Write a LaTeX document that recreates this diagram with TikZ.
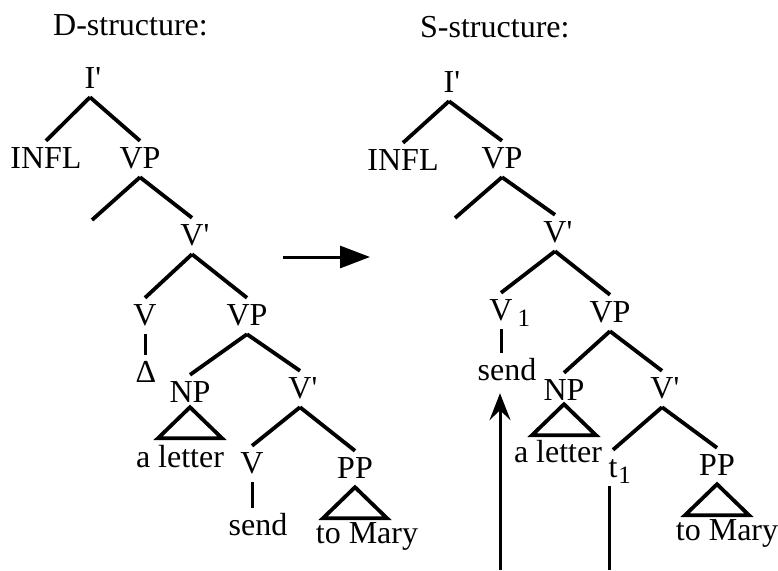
\documentclass[tikz,border=0pt]{standalone}
\usepackage{fontspec}
\setmainfont{Liberation Serif}
\usetikzlibrary{arrows.meta}

\newcommand{\prm}{\rlap{\textquotesingle}}
\newcommand{\idx}[2][5pt]{\rlap{\kern#1\raisebox{-6pt}{\fontsize{25}{25}\selectfont #2}}}

\begin{document}
\begin{tikzpicture}[x=1pt,y=-1pt,
    every node/.style={font=\fontsize{32}{38}\selectfont},
    head/.style={inner sep=0pt,anchor=base west},
    cat/.style={inner xsep=0pt,inner ysep=6pt,text height=21pt,text depth=3pt,anchor=base},
    branch/.style={line width=3.8pt},
    stem/.style={line width=3pt},
    move/.style={line width=3pt,-{Triangle[length=30pt,width=22pt]}},
    trace/.style={line width=3pt,-{Stealth[length=27pt,width=21pt,inset=10pt]},shorten >=4pt}]
    \useasboundingbox (0,0) rectangle (778,570);

    % D-structure
    \node[head] (d_head) at (53,35) {D-structure:};
    \node[cat] (d_ip) at (90,88) {I\prm};
    \node[cat] (d_infl) at (46,168) {INFL};
    \node[cat] (d_vp) at (140,168) {VP};
    \coordinate (d_spec) at (92,220);
    \node[cat] (d_vbar) at (192,245) {V\prm};
    \node[cat] (d_v) at (145,325) {V};
    \node[cat] (d_vp2) at (247,325) {VP};
    \node[cat] (d_delta) at (146,382) {Δ};
    \node[cat] (d_np) at (190,402) {NP};
    \node[cat] (d_vbar2) at (300,398) {V\prm};
    \node[cat] (d_letter) at (180,467) {a letter};
    \node[cat] (d_v2) at (252,473) {V};
    \node[cat] (d_pp) at (355,478) {PP};
    \node[cat] (d_send) at (258,535) {send};
    \node[cat] (d_mary) at (367,543) {to Mary};
    \path[branch]
        (d_ip.south) edge (d_infl.north)
                     edge (d_vp.north)
        (d_vp.south) edge (d_spec)
                     edge (d_vbar.north)
        (d_vbar.south) edge (d_v.north)
                       edge (d_vp2.north)
        (d_vp2.south) edge (d_np.north)
                      edge (d_vbar2.north)
        (d_vbar2.south) edge (d_v2.north)
                        edge (d_pp.north);
    \path[stem]
        (d_v.south) edge (d_v.south |- d_delta.north)
        (d_v2.south) edge (d_v2.south |- d_send.north);
    \draw[branch] ([yshift=4pt]d_np.south) -- ++(-32,31) -- ++(64,0) -- cycle;
    \draw[branch] (d_pp.south) -- ++(-32,31) -- ++(64,0) -- cycle;

    % movement
    \coordinate (go) at (283,257);
    \coordinate (gone) at (370,257);
    \draw[move] (go) -- (gone);

    % S-structure
    \node[head] (s_head) at (420,37) {S-structure:};
    \node[cat] (s_ip) at (449,92) {I\prm};
    \node[cat] (s_infl) at (403,170) {INFL};
    \node[cat] (s_vp) at (502,168) {VP};
    \coordinate (s_spec) at (455,218);
    \node[cat] (s_vbar) at (555,242) {V\prm};
    \node[cat] (s_v) at (501,320) {V\idx{1}};
    \node[cat] (s_vp2) at (610,322) {VP};
    \node[cat] (s_send) at (507,380) {send};
    \node[cat] (s_np) at (564,400) {NP};
    \node[cat] (s_vbar2) at (662,398) {V\prm};
    \node[cat] (s_letter) at (558,462) {a letter};
    \node[cat] (s_t) at (613,477) {t\idx[1pt]{1}};
    \node[cat] (s_pp) at (717,475) {PP};
    \node[cat] (s_mary) at (727,540) {to Mary};
    \path[branch]
        (s_ip.south) edge (s_infl.north)
                     edge (s_vp.north)
        (s_vp.south) edge (s_spec)
                     edge (s_vbar.north)
        (s_vbar.south) edge (s_v.north)
                       edge (s_vp2.north)
        (s_vp2.south) edge (s_np.north)
                      edge (s_vbar2.north)
        (s_vbar2.south) edge (s_t.north)
                        edge (s_pp.north);
    \path[stem]
        (s_v.south) edge (s_v.south |- s_send.north);
    \draw[branch] ([yshift=5pt]s_np.south) -- ++(-32,31) -- ++(64,0) -- cycle;
    \draw[branch] (s_pp.south) -- ++(-32,31) -- ++(64,0) -- cycle;

    % traces
    \coordinate (s_foot) at (500,570);
    \coordinate (s_tfoot) at (609,570);
    \draw[trace] (s_foot) -- (s_foot |- s_send.south);
    \draw[stem] (s_tfoot |- s_t.south) -- (s_tfoot);
\end{tikzpicture}
\end{document}
